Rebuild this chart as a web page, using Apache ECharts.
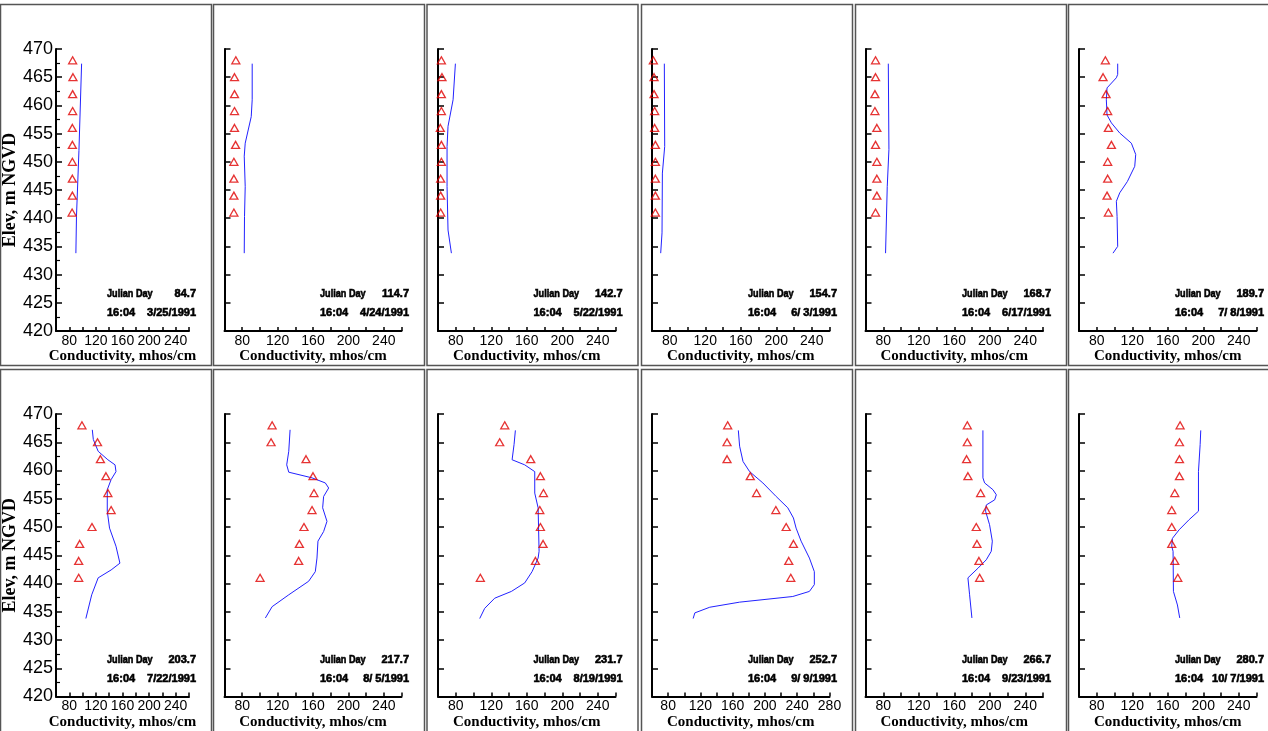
<!DOCTYPE html>
<html><head><meta charset="utf-8">
<script src="https://cdn.jsdelivr.net/npm/echarts@6/dist/echarts.min.js"></script>
<style>html,body{margin:0;padding:0;background:#fff}#c{width:1268px;height:731px}</style>
</head><body><div id="c"></div>
<script>
// Observation elevations (m NGVD)
const elev = [468, 465, 462, 459, 456, 453, 450, 447, 444, 441];
// Observed conductivity at each elevation
const obs084 = [85, 85.5, 85, 85, 84.6, 84.6, 84.6, 84.6, 84.6, 84.2];
const obs114 = [72.8, 71.3, 71.3, 71.3, 71.3, 72.5, 70.6, 70.6, 70.6, 70.6];
const obs142 = [63.8, 64.5, 63.8, 63.8, 62.6, 63.8, 63.8, 63, 63, 63];
const obs154 = [61.5, 62.3, 62.3, 63, 63, 63.8, 63.8, 63.8, 63.8, 63.8];
const obs168 = [71.3, 71.3, 70.6, 70.6, 72.8, 71.3, 72.8, 72.8, 72.8, 71.3];
const obs189 = [89.7, 87.1, 90.5, 92.3, 93.1, 96.5, 92.3, 92.3, 91.6, 93.1];
const obs203 = [99, 122.4, 126.8, 135.1, 138, 142.9, 114.1, 95.6, 94.1, 94.1];
const obs217 = [113.8, 112.6, 152.1, 160, 161.1, 158.9, 149.8, 144.6, 143.8, 100.2];
const obs231 = [135.2, 129.5, 164.5, 175.4, 178.8, 174.7, 175.4, 178.4, 169.8, 107.7];
const obs252 = [153.8, 153, 153, 181.8, 189.6, 213.5, 226.3, 235.3, 229.5, 232];
const obs266 = [174.7, 174.7, 173.9, 175.4, 189.7, 196.1, 184.8, 185.6, 187.8, 188.6];
const obs280 = [173.9, 173.2, 173.2, 173.2, 167.9, 164.5, 164.5, 164.5, 167.9, 171.3];
// Simulated profiles [conductivity, elevation]
const sim084 = [[98.5,467.4],[94.5,452],[90.8,440.3],[89.9,433.8]];
const sim114 = [[91.3,467.4],[91.3,461],[90.2,458],[83.4,453.3],[82.3,451],[83.4,445.6],[82.6,440.3],[82.3,433.8]];
const sim142 = [[79.6,467.4],[77,461],[71.3,456.3],[70.2,452.7],[70.2,445.6],[71.3,437.9],[75.1,433.8]];
const sim154 = [[73.9,467.4],[74.3,452.7],[71.7,448],[71.3,437.4],[69.8,433.8]];
const sim168 = [[85.7,467.4],[86.4,452.2],[84.5,445.6],[82.6,433.8]];
const sim189 = [[103.6,467.4],[103.6,465.5],[102.1,464.9],[91.6,463.1],[90.8,461],[91.6,458.3],[96.5,456.9],[105.9,455.1],[119,453.3],[123.9,451.3],[122.8,449.2],[114.5,446.5],[105.9,444.5],[102.1,443],[102.9,440.3],[103.6,435],[98.3,433.8]];
const sim203 = [[114.6,467.2],[116.1,465.5],[123.4,463.4],[138,461.9],[148.8,461],[150.2,459.8],[142.9,458.4],[137.1,456.6],[137.1,452.8],[140.5,449.8],[150.2,446.6],[156.1,443.6],[142.9,442.4],[123.4,441],[113.7,438],[104.9,433.8]];
const sim217 = [[134.1,467.2],[132.6,463.4],[130.3,461],[132.6,459.7],[158.9,458.7],[173.9,457.8],[177.7,456.9],[172,455.4],[170.9,453.4],[175.8,451],[172,449.2],[165.6,447.5],[164.5,444.5],[162.6,442.1],[155.1,440.4],[132.6,438],[113.8,435.9],[106.2,433.9]];
const sim231 = [[147.2,467.1],[145.7,464.6],[143.5,461.9],[157.7,461],[169,459.8],[169,456],[172.8,453.4],[173.9,445.7],[172.8,444.5],[166,442.1],[157.7,440.1],[142.7,438.6],[123.9,437.4],[112.6,435.6],[107,433.8]];
const sim252 = [[167,467.1],[168.6,464.3],[172.8,461.6],[181,459.8],[197.4,457.8],[213.9,455.4],[228.3,453.4],[235.3,451.6],[238.6,449.8],[244.8,447.5],[255.1,444.5],[261.2,442.1],[261.2,439.8],[255.1,438.6],[234.5,437.7],[168.6,436.7],[131.6,435.8],[113.1,434.8],[111,433.8]];
const sim266 = [[192.3,467.1],[192.3,458.7],[194.2,457.8],[203.6,456.6],[207.4,455.7],[205.5,454.8],[196.1,453.9],[195.3,452.8],[199.8,450.4],[202.9,447.5],[201.7,445.7],[196.1,444.2],[186.7,442.7],[175.4,441],[177.3,438],[179.9,433.9]];
const sim280 = [[197.2,467.1],[196.5,464.6],[194.6,459.8],[194.6,452.8],[184.1,451.3],[172.8,449.5],[165.3,448],[164.5,446.6],[166,445.7],[166.4,438.6],[170.9,436.2],[173.5,433.9]];
// Panel labels
const julianDays = ['84.7','114.7','142.7','154.7','168.7','189.7','203.7','217.7','231.7','252.7','266.7','280.7'];
const dates = ['3/25/1991','4/24/1991','5/22/1991','6/ 3/1991','6/17/1991','7/ 8/1991','7/22/1991','8/ 5/1991','8/19/1991','9/ 9/1991','9/23/1991','10/ 7/1991'];
const times = ['16:04','16:04','16:04','16:04','16:04','16:04','16:04','16:04','16:04','16:04','16:04','16:04'];
const xMaxes = [260,260,260,260,260,260,260,260,260,280,260,260];
const yTicks = [420, 470, 5];
const xLabelStep = 40;

const observed = [obs084,obs114,obs142,obs154,obs168,obs189,obs203,obs217,obs231,obs252,obs266,obs280];
const simulated = [sim084,sim114,sim142,sim154,sim168,sim189,sim203,sim217,sim231,sim252,sim266,sim280];

// Layout
const gridLefts = [53, 224.5, 438, 652, 865.5, 1079];
const gridWidths = [136, 177, 177.5, 177.5, 177.5, 177.5];
const rowTops = [49, 414];
const frameLefts = [0.5, 213.5, 427, 641.5, 855.5, 1068.5];
const frameTops = [4.5, 369.5];

const grids = [], xAxes = [], yAxes = [], series = [], graphics = [];
const sans = '"Liberation Sans", Arial, sans-serif';
const serif = '"Liberation Serif", "Times New Roman", serif';

for (let i = 0; i < 12; i++) {
  const r = Math.floor(i / 6), c = i % 6;
  const first = c === 0;
  grids.push({left: gridLefts[c], top: rowTops[r], width: gridWidths[c], height: r === 0 ? 282 : 282.5});
  xAxes.push({
    type: 'value', gridIndex: i, min: 60, max: xMaxes[i], interval: 20,
    name: 'Conductivity, mhos/cm', nameLocation: 'middle', nameGap: 10,
    nameTextStyle: {fontFamily: serif, fontWeight: 'bold', fontSize: 15, color: '#000'},
    axisLine: {lineStyle: {color: '#000', width: 2}},
    axisTick: {inside: true, length: 4, lineStyle: {color: '#000', width: 1.5}},
    axisLabel: {margin: 3, fontFamily: sans, fontSize: 14, color: '#000',
      formatter: v => (v % xLabelStep === 0 ? String(v) : '')},
    splitLine: {show: false}
  });
  yAxes.push({
    type: 'value', gridIndex: i, min: yTicks[0], max: yTicks[1], interval: yTicks[2],
    name: first ? 'Elev, m NGVD' : '', nameLocation: 'middle', nameGap: 37,
    nameTextStyle: {fontFamily: serif, fontWeight: 'bold', fontSize: 18, color: '#000'},
    axisLine: {lineStyle: {color: '#000', width: 2}},
    axisTick: {inside: true, length: 6, lineStyle: {color: '#000', width: 1.5}},
    minorTick: {show: first, splitNumber: 2, length: 4, lineStyle: {color: '#000', width: 1.2}},
    axisLabel: {show: first, margin: 3, fontFamily: sans, fontSize: 18, color: '#000'},
    splitLine: {show: false}
  });
  series.push({
    type: 'line', xAxisIndex: i, yAxisIndex: i, data: simulated[i],
    showSymbol: false, symbol: 'none', smooth: false,
    lineStyle: {color: '#2222ff', width: 1}, z: 2
  });
  series.push({
    type: 'scatter', xAxisIndex: i, yAxisIndex: i,
    data: observed[i].map((v, k) => [v, elev[k]]),
    symbol: 'triangle', symbolSize: [8, 7],
    itemStyle: {color: 'rgba(255,255,255,0)', borderColor: '#e00000', borderWidth: 1.3}, z: 3
  });
  const fx = frameLefts[c], fy = frameTops[r];
  graphics.push({type: 'rect', shape: {x: fx, y: fy, width: 211, height: r === 0 ? 361 : 365},
    style: {fill: 'none', stroke: '#555', lineWidth: 1.5}, z: 0, silent: true});
  const ty1 = (r === 0 ? 294 : 660), ty2 = (r === 0 ? 313 : 679);
  const txtStyle = {font: 'bold 11px ' + sans, fill: '#000', stroke: '#000', lineWidth: 0.6, textVerticalAlign: 'middle'};
  graphics.push({type: 'text', x: fx + 106.5, y: ty1, scaleX: 0.83,
    style: Object.assign({}, txtStyle, {text: 'Julian Day', x: 0, y: 0, textAlign: 'left'})});
  graphics.push({type: 'text', x: fx + 195.5, y: ty1,
    style: Object.assign({}, txtStyle, {text: julianDays[i], x: 0, y: 0, textAlign: 'right'})});
  graphics.push({type: 'text', x: fx + 106.5, y: ty2,
    style: Object.assign({}, txtStyle, {text: times[i], x: 0, y: 0, textAlign: 'left'})});
  graphics.push({type: 'text', x: fx + 195.5, y: ty2,
    style: Object.assign({}, txtStyle, {text: dates[i], x: 0, y: 0, textAlign: 'right'})});
}

const chart = echarts.init(document.getElementById('c'), null, {renderer: 'canvas'});
chart.setOption({
  backgroundColor: '#fff', animation: false,
  grid: grids, xAxis: xAxes, yAxis: yAxes, series: series, graphic: graphics
});
</script></body></html>
